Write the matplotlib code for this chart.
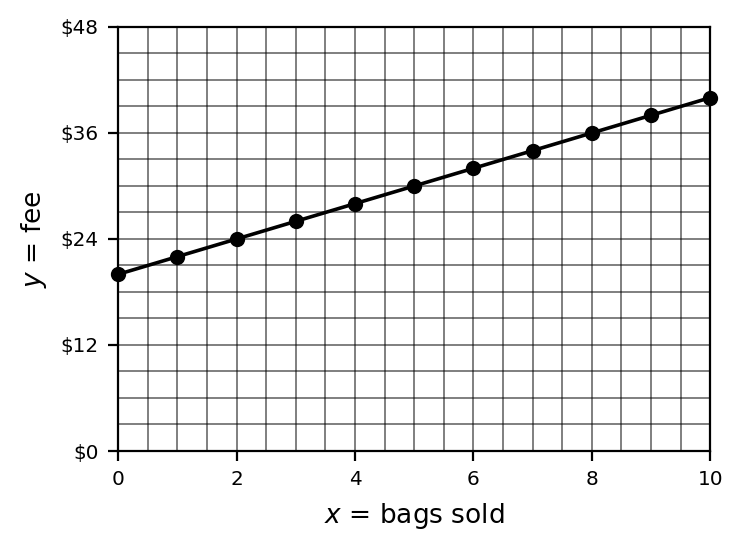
import matplotlib
matplotlib.use('Agg')
import matplotlib.pyplot as plt
import numpy as np

# bags sold vs fee
bags = [0, 1, 2, 3, 4, 5, 6, 7, 8, 9, 10]
fee = [20, 22, 24, 26, 28, 30, 32, 34, 36, 38, 40]
x_ticks = [0, 2, 4, 6, 8, 10]
y_ticks = [0, 12, 24, 36, 48]
y_tick_labels = ['$0', '$12', '$24', '$36', '$48']

fig = plt.figure(figsize=(3.715, 2.75), dpi=200)
ax = fig.add_axes([0.159, 0.18, 0.797, 0.771])

ax.plot(bags, fee, color='black', lw=1.3, marker='o', ms=4.5, zorder=3, clip_on=False)

ax.set_xlim(0, 10)
ax.set_ylim(0, 48)
ax.set_xticks(x_ticks)
ax.set_yticks(y_ticks)
ax.set_yticklabels(y_tick_labels)
ax.set_xticks(np.arange(0, 10.01, 0.5), minor=True)
ax.set_yticks(np.arange(0, 48.01, 3), minor=True)
ax.tick_params(which='minor', length=0)
ax.tick_params(which='major', labelsize=7.2, length=3.5, width=0.8)
ax.grid(which='both', color='black', alpha=0.5, lw=0.7)
ax.set_axisbelow(True)

ax.set_xlabel('$x$ = bags sold', fontsize=9.5)
ax.set_ylabel('$y$ = fee', fontsize=9.5)

fig.savefig('out.png', dpi=200)
